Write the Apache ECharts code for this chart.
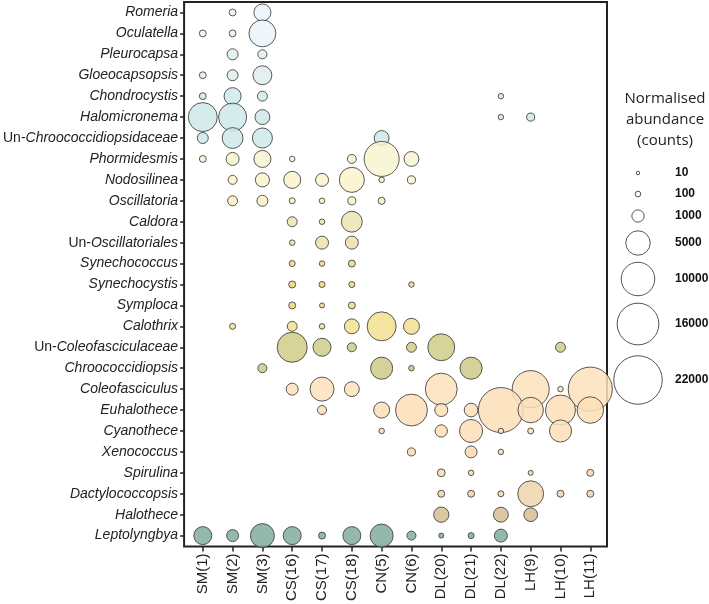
<!DOCTYPE html>
<html>
<head>
<meta charset="utf-8">
<script src="https://cdn.jsdelivr.net/npm/echarts@6/dist/echarts.min.js"></script>
<style>
  html, body { margin: 0; padding: 0; background: #fff; }
  #chart { width: 709px; height: 604px; }
</style>
</head>
<body>
<div id="chart"></div>
<script>
// taxa, top to bottom
var taxa = ['Romeria', 'Oculatella', 'Pleurocapsa', 'Gloeocapsopsis', 'Chondrocystis',
  'Halomicronema', 'Un-Chroococcidiopsidaceae', 'Phormidesmis', 'Nodosilinea', 'Oscillatoria',
  'Caldora', 'Un-Oscillatoriales', 'Synechococcus', 'Synechocystis', 'Symploca', 'Calothrix',
  'Un-Coleofasciculaceae', 'Chroococcidiopsis', 'Coleofasciculus', 'Euhalothece', 'Cyanothece',
  'Xenococcus', 'Spirulina', 'Dactylococcopsis', 'Halothece', 'Leptolyngbya'];

var samples = ['SM(1)', 'SM(2)', 'SM(3)', 'CS(16)', 'CS(17)', 'CS(18)', 'CN(5)', 'CN(6)',
  'DL(20)', 'DL(21)', 'DL(22)', 'LH(9)', 'LH(10)', 'LH(11)'];

// one fill colour per taxon row
var rowColors = ['#eaf4fa', '#eaf4fa', '#dfefef', '#dfeded', '#d0ebeb', '#cfe9e9', '#cfe9e9',
  '#f7f4d0', '#fcf3cc', '#fcf0c4', '#ede5b2', '#ebe2ac', '#efd883', '#efd883', '#efd883',
  '#f1e08f', '#d0cc88', '#cdc987', '#fde2bb', '#fcdfb7', '#fcdfb7', '#fad8ad', '#f9d8ad',
  '#efd3aa', '#d5bd94', '#82ab9f'];

// normalised abundance (counts), rows = taxa, columns = samples
var abundance = [
  [0, 200, 2200, 0, 0, 0, 0, 0, 0, 0, 0, 0, 0, 0],
  [200, 200, 6200, 0, 0, 0, 0, 0, 0, 0, 0, 0, 0, 0],
  [0, 750, 450, 0, 0, 0, 0, 0, 0, 0, 0, 0, 0, 0],
  [200, 750, 2800, 0, 0, 0, 0, 0, 0, 0, 0, 0, 0, 0],
  [200, 2200, 580, 0, 0, 0, 0, 0, 0, 0, 90, 0, 0, 0],
  [7300, 6800, 1600, 0, 0, 0, 0, 0, 0, 0, 90, 320, 0, 0],
  [750, 3500, 3200, 0, 0, 0, 1600, 0, 0, 0, 0, 0, 0, 0],
  [200, 1150, 2200, 95, 0, 440, 11000, 1600, 0, 0, 0, 0, 0, 0],
  [0, 440, 1400, 2200, 1150, 5300, 95, 320, 0, 0, 0, 0, 0, 0],
  [0, 580, 750, 130, 95, 320, 210, 0, 0, 0, 0, 0, 0, 0],
  [0, 0, 0, 580, 95, 3500, 0, 0, 0, 0, 0, 0, 0, 0],
  [0, 0, 0, 95, 1150, 1150, 0, 0, 0, 0, 0, 0, 0, 0],
  [0, 0, 0, 130, 95, 210, 0, 0, 0, 0, 0, 0, 0, 0],
  [0, 0, 0, 210, 130, 130, 0, 95, 0, 0, 0, 0, 0, 0],
  [0, 0, 0, 210, 65, 210, 0, 0, 0, 0, 0, 0, 0, 0],
  [0, 130, 0, 580, 95, 1600, 7300, 1900, 0, 0, 0, 0, 0, 0],
  [0, 0, 0, 7900, 2500, 440, 0, 580, 6200, 0, 0, 0, 580, 0],
  [0, 0, 440, 0, 0, 0, 4000, 95, 0, 4000, 0, 0, 0, 0],
  [0, 0, 0, 940, 4800, 1600, 0, 0, 9000, 0, 0, 12400, 95, 18000],
  [0, 0, 0, 0, 440, 0, 1900, 9000, 1150, 1300, 18800, 5500, 7900, 6000],
  [0, 0, 0, 0, 0, 0, 95, 0, 1000, 4400, 95, 130, 4000, 0],
  [0, 0, 0, 0, 0, 0, 0, 320, 0, 940, 95, 0, 0, 0],
  [0, 0, 0, 0, 0, 0, 0, 0, 300, 95, 0, 65, 0, 210],
  [0, 0, 0, 0, 0, 0, 0, 0, 210, 210, 130, 5700, 210, 210],
  [0, 0, 0, 0, 0, 0, 0, 0, 1700, 0, 1600, 1300, 0, 0],
  [2500, 940, 4800, 2500, 210, 2500, 4400, 440, 65, 130, 1150, 0, 0, 0]
];

var legendValues = [10, 100, 1000, 5000, 10000, 16000, 22000];

// bubble diameter from counts
function bubbleSize(v) {
  return 0.31 * Math.sqrt(v) + 2.5;
}

var points = [];
for (var r = 0; r < taxa.length; r++) {
  for (var c = 0; c < samples.length; c++) {
    if (abundance[r][c] > 0) points.push([c, r, abundance[r][c]]);
  }
}

var idx = function (n) { var a = []; for (var i = 0; i < n; i++) a.push(i); return a; };

var FONT = '"Liberation Sans", Arial, Helvetica, sans-serif';

// legend on the right
var legendY = [173, 194, 216, 243, 279, 324, 380];
var legendItems = [{
  type: 'text', x: 665, y: 88,
  style: {
    text: 'Normalised\nabundance\n(counts)', textAlign: 'center',
    font: '15px "Open Sans", Lato, sans-serif', lineHeight: 21, fill: '#222'
  }
}];
legendValues.forEach(function (v, i) {
  legendItems.push({
    type: 'circle',
    shape: { cx: 638, cy: legendY[i], r: bubbleSize(v) / 2 },
    style: { fill: '#fff', stroke: '#555', lineWidth: 1 }
  });
  legendItems.push({
    type: 'text', x: 675, y: legendY[i],
    style: {
      text: String(v), font: 'bold 12px ' + FONT,
      fill: '#111', textVerticalAlign: 'middle'
    }
  });
});

var chart = echarts.init(document.getElementById('chart'));
var option = {
  backgroundColor: '#fff',
  animation: false,
  grid: {
    left: 177, right: 102, top: 2, bottom: 55,
    show: true, borderColor: '#222', borderWidth: 2, backgroundColor: 'transparent'
  },
  xAxis: {
    type: 'value', min: -0.627, max: 13.56,
    splitLine: { show: false },
    axisLine: { show: false, onZero: false },
    axisTick: { show: true, customValues: idx(samples.length), length: 5, lineStyle: { color: '#222', width: 1.5 } },
    axisLabel: {
      customValues: idx(samples.length), rotate: 90, margin: 7,
      fontSize: 15, color: '#222', fontFamily: FONT,
      formatter: function (v) { return samples[Math.round(v)]; }
    }
  },
  yAxis: {
    type: 'value', inverse: true, min: -0.5, max: 25.52,
    splitLine: { show: false },
    axisLine: { show: false, onZero: false },
    axisTick: { show: true, customValues: idx(taxa.length), length: 4, lineStyle: { color: '#222', width: 1.5 } },
    axisLabel: {
      customValues: idx(taxa.length), margin: 6,
      fontSize: 14, color: '#222', fontFamily: FONT,
      formatter: function (v) {
        var name = taxa[Math.round(v)];
        if (name.indexOf('Un-') === 0) return '{u|Un-}{i|' + name.slice(3) + '}';
        return '{i|' + name + '}';
      },
      rich: {
        u: { fontSize: 14, color: '#222', fontFamily: FONT },
        i: { fontSize: 14, color: '#222', fontStyle: 'italic', fontFamily: FONT }
      }
    }
  },
  series: [{
    type: 'scatter',
    data: points,
    clip: false,
    symbolSize: function (val) { return bubbleSize(val[2]); },
    itemStyle: {
      color: function (p) { return rowColors[p.data[1]]; },
      opacity: 0.85,
      borderColor: '#3c3c3c',
      borderWidth: 1
    },
    emphasis: { disabled: true }
  }],
  graphic: legendItems
};
chart.setOption(option);
</script>
</body>
</html>
